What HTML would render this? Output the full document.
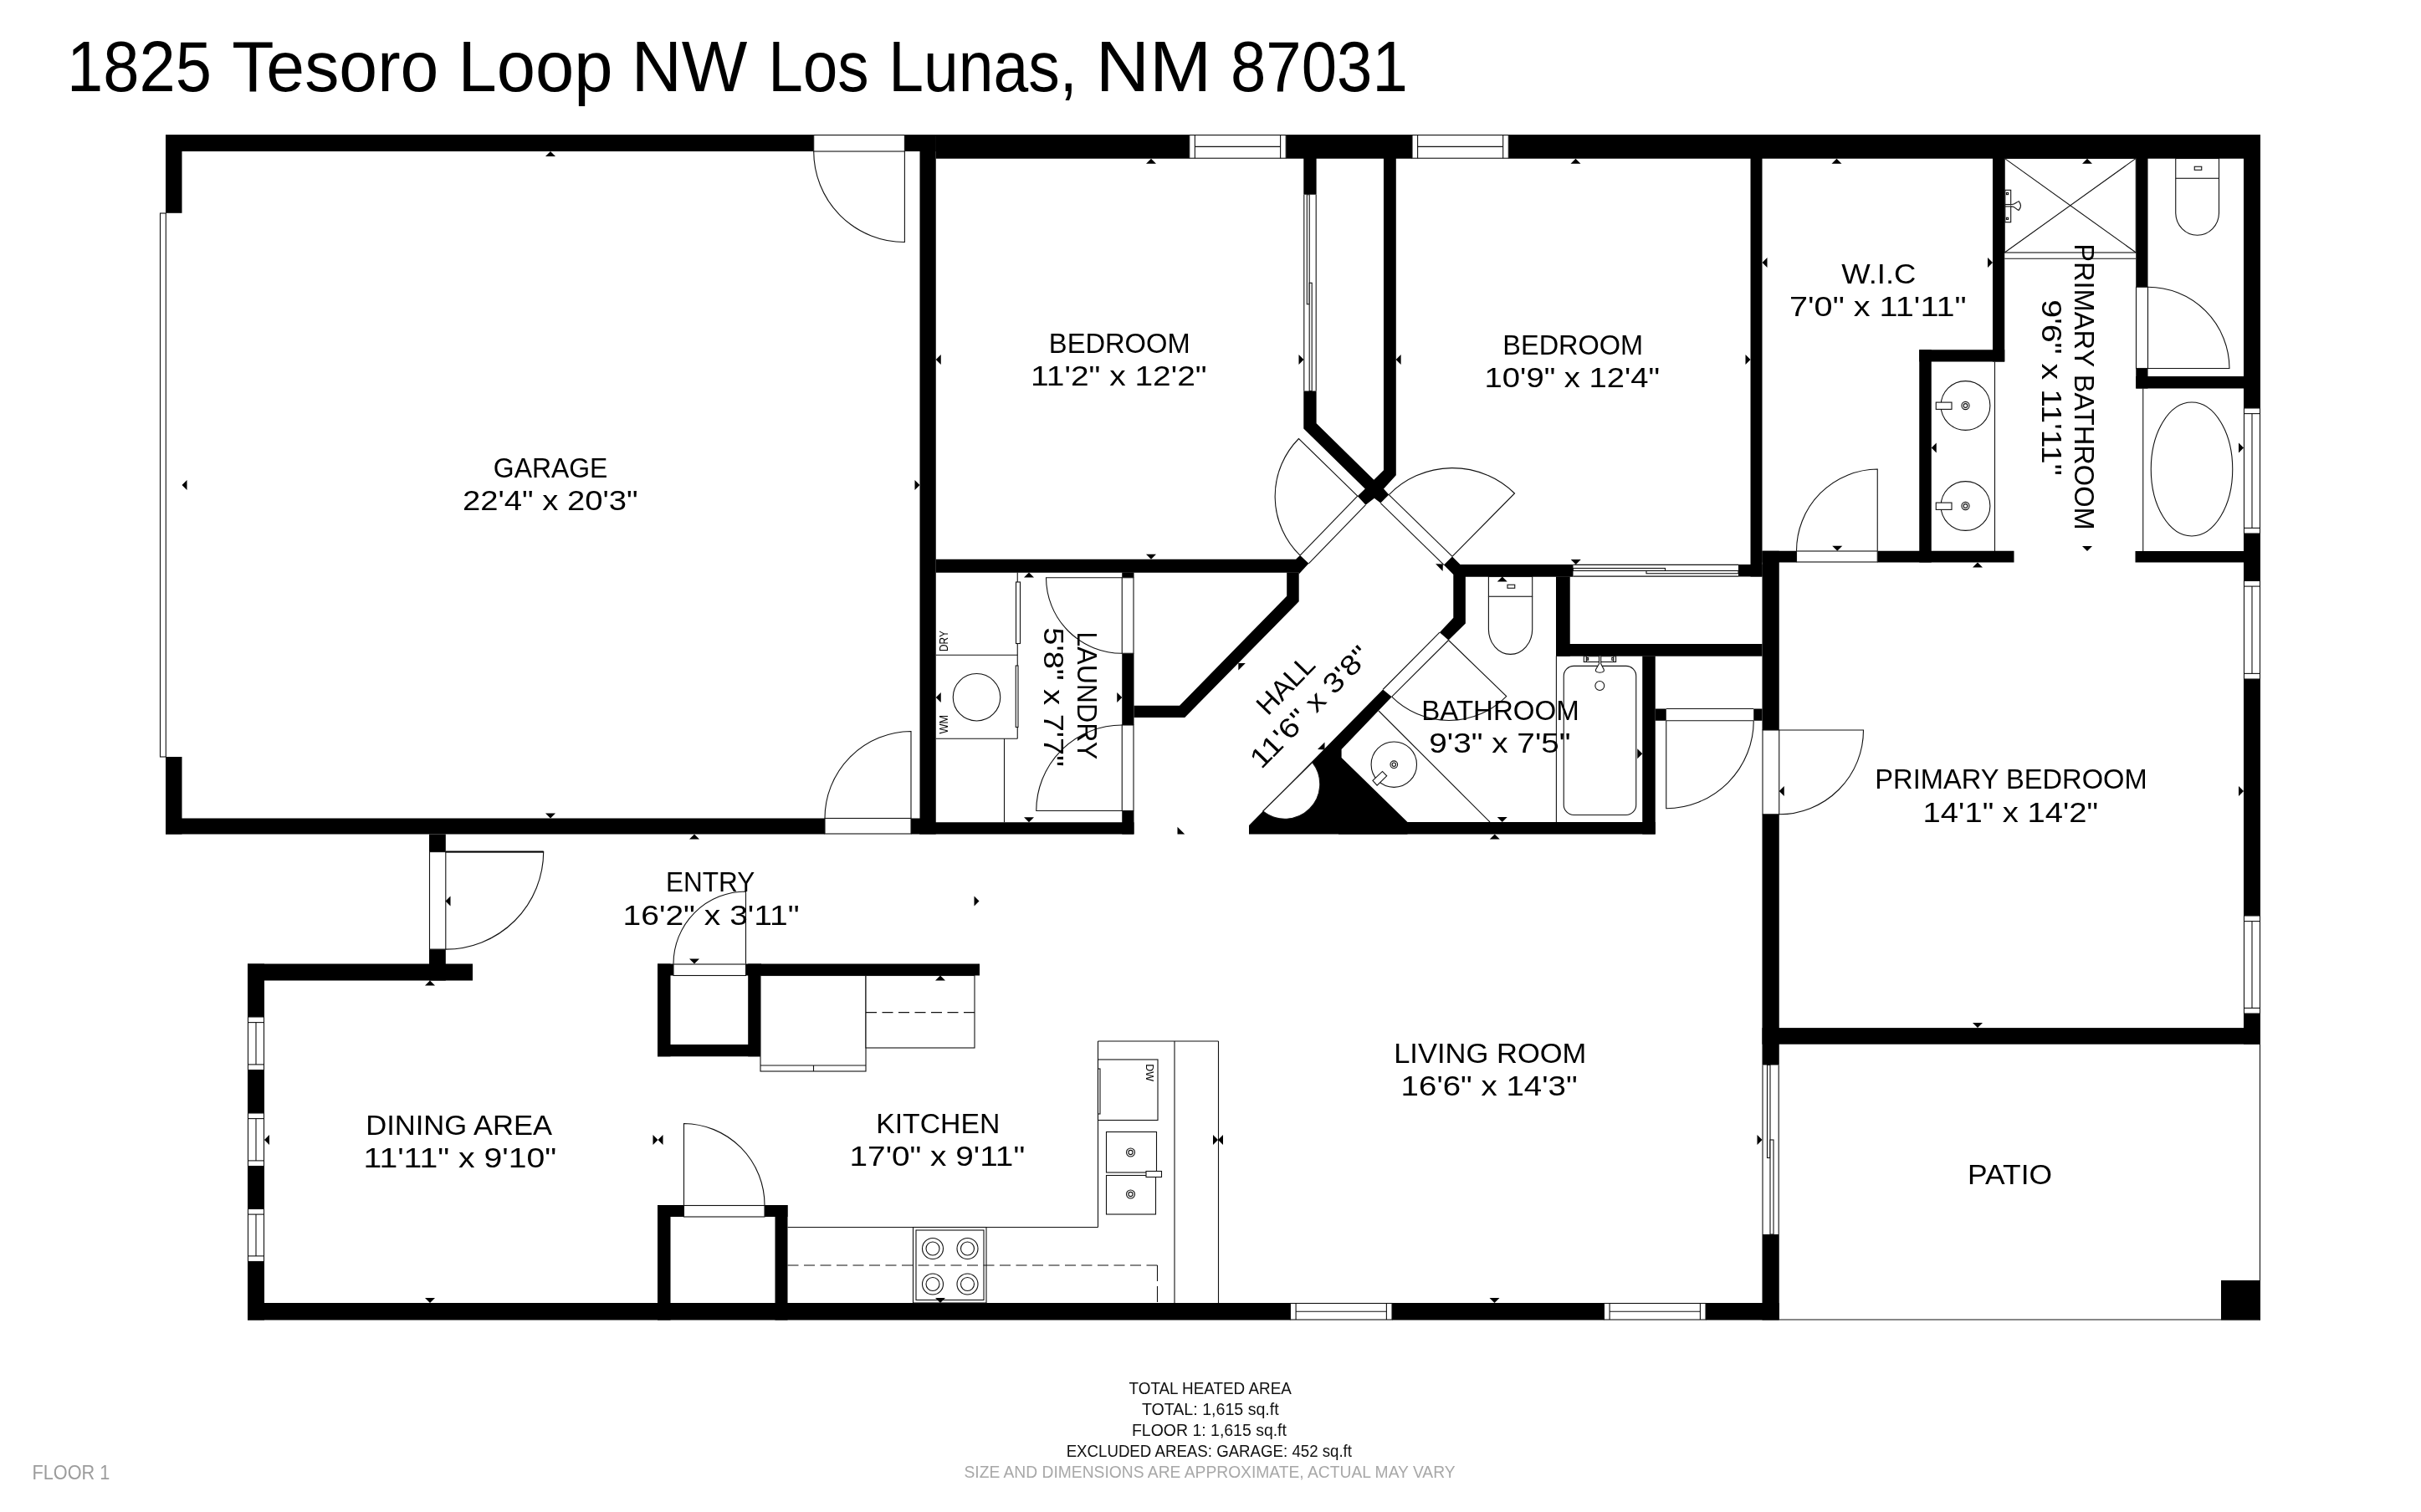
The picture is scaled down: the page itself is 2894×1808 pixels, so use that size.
<!DOCTYPE html>
<html><head><meta charset="utf-8"><title>1825 Tesoro Loop NW Los Lunas, NM 87031</title>
<style>
html,body{margin:0;padding:0;background:#fff;}
body{width:2894px;height:1808px;overflow:hidden;font-family:"Liberation Sans",sans-serif;}
svg{display:block;font-family:"Liberation Sans",sans-serif;will-change:transform;}
</style></head><body>
<svg width="2894" height="1808" viewBox="0 0 2894 1808">
<rect width="2894" height="1808" fill="#fff"/>
<rect x="198" y="161" width="774.7" height="20" fill="#000"/>
<rect x="1081.4" y="161" width="37.35" height="20" fill="#000"/>
<rect x="1118.75" y="161" width="303" height="28.7" fill="#000"/>
<rect x="1537.2" y="161" width="150.8" height="28.7" fill="#000"/>
<rect x="1803.3" y="161" width="898.7" height="28.7" fill="#000"/>
<rect x="198" y="161" width="19.5" height="93.8" fill="#000"/>
<rect x="198" y="905" width="19.5" height="92.5" fill="#000"/>
<rect x="198" y="978.5" width="788" height="19" fill="#000"/>
<rect x="1089" y="978.5" width="11" height="19" fill="#000"/>
<rect x="1099.5" y="161" width="19.25" height="836.5" fill="#000"/>
<rect x="1099.5" y="983.25" width="256" height="14.25" fill="#000"/>
<rect x="1341.25" y="684.5" width="14.25" height="6.25" fill="#000"/>
<rect x="1341.25" y="781.25" width="14.25" height="85.75" fill="#000"/>
<rect x="1341.25" y="969.5" width="14.25" height="28" fill="#000"/>
<polygon points="1355.5,843.75 1410,843.75 1538.2,712.7 1538.2,684.5 1552.7,684.5 1552.7,719.3 1416.25,858 1355.5,858" fill="#000"/>
<polygon points="1118.75,668.8 1549.1,668.8 1554.05,664.1 1564.4,673.85 1552.7,686.6 1552.7,684.8 1118.75,684.8" fill="#000"/>
<rect x="1558.3" y="189" width="15.3" height="43.7" fill="#000"/>
<polygon points="1558.3,467.5 1573.6,467.5 1573.6,506.25 1642.3,573.8 1653.97,562.2 1653.97,189 1668.8,189 1668.8,568.3 1654,584.4 1660.3,591.6 1650.3,601.6 1642.86,595.8 1632.5,603.7 1622.75,593.15 1631.75,584.4 1558.3,512.5" fill="#000"/>
<rect x="2092.5" y="189" width="14" height="500.5" fill="#000"/>
<polygon points="1735.98,665.4 1745.5,674.9 1880.5,674.9 1880.5,689.7 1751.85,689.7 1751.85,745.5 1731.5,765.5 1720.9,756.2 1737.3,738.75 1737.3,687.1 1725.9,675.45" fill="#000"/>
<rect x="2078" y="675" width="28.5" height="14.5" fill="#000"/>
<rect x="1860" y="689.5" width="16.75" height="95.2" fill="#000"/>
<rect x="1860" y="770" width="246.5" height="14.7" fill="#000"/>
<rect x="1963.25" y="784.5" width="15.5" height="213" fill="#000"/>
<rect x="1600" y="983" width="378.75" height="14.5" fill="#000"/>
<rect x="1978.75" y="847.5" width="13" height="14.25" fill="#000"/>
<rect x="2096.25" y="847.5" width="10.25" height="14.25" fill="#000"/>
<polygon points="1653.1,824.5 1663.7,833.2 1603.6,896 1603.6,906 1682.5,983 1682.5,997.5 1493,997.5 1493,987" fill="#000"/>
<rect x="2106.5" y="658.75" width="20.25" height="214.25" fill="#000"/>
<rect x="2106.5" y="973.75" width="20.25" height="299.75" fill="#000"/>
<rect x="2106.5" y="1476" width="20.25" height="102.5" fill="#000"/>
<rect x="2106.5" y="658.75" width="41" height="13.75" fill="#000"/>
<rect x="2244.25" y="658.75" width="163.25" height="13.75" fill="#000"/>
<rect x="2382" y="189" width="14.25" height="243.5" fill="#000"/>
<rect x="2294.25" y="418.25" width="102" height="14.25" fill="#000"/>
<rect x="2294.25" y="418.25" width="14.5" height="254.25" fill="#000"/>
<rect x="2553.25" y="189" width="14.25" height="154.25" fill="#000"/>
<rect x="2553.25" y="440.5" width="14.25" height="24" fill="#000"/>
<rect x="2553.25" y="450" width="128.75" height="14.5" fill="#000"/>
<rect x="2552.5" y="659" width="129.5" height="13.5" fill="#000"/>
<rect x="2682" y="161" width="20" height="327" fill="#000"/>
<rect x="2682" y="638" width="20" height="56.5" fill="#000"/>
<rect x="2682" y="812" width="20" height="283" fill="#000"/>
<rect x="2682" y="1212" width="20" height="36.7" fill="#000"/>
<rect x="2106.5" y="1229.1" width="595.5" height="19.6" fill="#000"/>
<rect x="513" y="997.5" width="19.8" height="21.1" fill="#000"/>
<rect x="513" y="1135.1" width="19.8" height="37.4" fill="#000"/>
<rect x="296" y="1152.5" width="269" height="20" fill="#000"/>
<rect x="296" y="1152.5" width="20" height="63.5" fill="#000"/>
<rect x="296" y="1279.5" width="20" height="51.5" fill="#000"/>
<rect x="296" y="1394.5" width="20" height="51" fill="#000"/>
<rect x="296" y="1508.5" width="20" height="70" fill="#000"/>
<rect x="296" y="1558" width="1246.5" height="20.5" fill="#000"/>
<rect x="1664" y="1558" width="253.5" height="20.5" fill="#000"/>
<rect x="2039" y="1558" width="87.75" height="20.5" fill="#000"/>
<rect x="786" y="1152.5" width="19.2" height="14" fill="#000"/>
<rect x="892" y="1152.5" width="17.7" height="14" fill="#000"/>
<rect x="786" y="1249" width="123.7" height="14.3" fill="#000"/>
<rect x="786" y="1152.5" width="15.5" height="110.8" fill="#000"/>
<rect x="894.2" y="1152.5" width="15.5" height="110.8" fill="#000"/>
<rect x="909" y="1152.5" width="262" height="14" fill="#000"/>
<rect x="786" y="1441" width="31.5" height="14" fill="#000"/>
<rect x="914" y="1441" width="27.5" height="14" fill="#000"/>
<rect x="786" y="1441" width="15.5" height="137.5" fill="#000"/>
<rect x="926.5" y="1441" width="15" height="137.5" fill="#000"/>
<rect x="2655" y="1531" width="47" height="47.5" fill="#000"/>
<rect x="1421.75" y="161.5" width="115.45" height="27.7" rx="0" fill="#fff" stroke="#111" stroke-width="1.1"/>
<line x1="1428.35" y1="161.5" x2="1428.35" y2="189.2" stroke="#111" stroke-width="1.1"/>
<line x1="1530.6" y1="161.5" x2="1530.6" y2="189.2" stroke="#111" stroke-width="1.1"/>
<line x1="1428.35" y1="175.35" x2="1530.6" y2="175.35" stroke="#111" stroke-width="1.1"/>
<rect x="1688" y="161.5" width="115.3" height="27.7" rx="0" fill="#fff" stroke="#111" stroke-width="1.1"/>
<line x1="1694.6" y1="161.5" x2="1694.6" y2="189.2" stroke="#111" stroke-width="1.1"/>
<line x1="1796.7" y1="161.5" x2="1796.7" y2="189.2" stroke="#111" stroke-width="1.1"/>
<line x1="1694.6" y1="175.35" x2="1796.7" y2="175.35" stroke="#111" stroke-width="1.1"/>
<rect x="1542.5" y="1558.5" width="121.5" height="19.5" rx="0" fill="#fff" stroke="#111" stroke-width="1.1"/>
<line x1="1549.1" y1="1558.5" x2="1549.1" y2="1578" stroke="#111" stroke-width="1.1"/>
<line x1="1657.4" y1="1558.5" x2="1657.4" y2="1578" stroke="#111" stroke-width="1.1"/>
<line x1="1549.1" y1="1568.25" x2="1657.4" y2="1568.25" stroke="#111" stroke-width="1.1"/>
<rect x="1917.5" y="1558.5" width="121.5" height="19.5" rx="0" fill="#fff" stroke="#111" stroke-width="1.1"/>
<line x1="1924.1" y1="1558.5" x2="1924.1" y2="1578" stroke="#111" stroke-width="1.1"/>
<line x1="2032.4" y1="1558.5" x2="2032.4" y2="1578" stroke="#111" stroke-width="1.1"/>
<line x1="1924.1" y1="1568.25" x2="2032.4" y2="1568.25" stroke="#111" stroke-width="1.1"/>
<rect x="296.5" y="1216" width="19" height="63.5" rx="0" fill="#fff" stroke="#111" stroke-width="1.1"/>
<line x1="296.5" y1="1222.6" x2="315.5" y2="1222.6" stroke="#111" stroke-width="1.1"/>
<line x1="296.5" y1="1272.9" x2="315.5" y2="1272.9" stroke="#111" stroke-width="1.1"/>
<line x1="306" y1="1222.6" x2="306" y2="1272.9" stroke="#111" stroke-width="1.1"/>
<rect x="296.5" y="1331" width="19" height="63.5" rx="0" fill="#fff" stroke="#111" stroke-width="1.1"/>
<line x1="296.5" y1="1337.6" x2="315.5" y2="1337.6" stroke="#111" stroke-width="1.1"/>
<line x1="296.5" y1="1387.9" x2="315.5" y2="1387.9" stroke="#111" stroke-width="1.1"/>
<line x1="306" y1="1337.6" x2="306" y2="1387.9" stroke="#111" stroke-width="1.1"/>
<rect x="296.5" y="1445.5" width="19" height="63" rx="0" fill="#fff" stroke="#111" stroke-width="1.1"/>
<line x1="296.5" y1="1452.1" x2="315.5" y2="1452.1" stroke="#111" stroke-width="1.1"/>
<line x1="296.5" y1="1501.9" x2="315.5" y2="1501.9" stroke="#111" stroke-width="1.1"/>
<line x1="306" y1="1452.1" x2="306" y2="1501.9" stroke="#111" stroke-width="1.1"/>
<rect x="2682.5" y="488" width="19" height="150" rx="0" fill="#fff" stroke="#111" stroke-width="1.1"/>
<line x1="2682.5" y1="494.6" x2="2701.5" y2="494.6" stroke="#111" stroke-width="1.1"/>
<line x1="2682.5" y1="631.4" x2="2701.5" y2="631.4" stroke="#111" stroke-width="1.1"/>
<line x1="2692" y1="494.6" x2="2692" y2="631.4" stroke="#111" stroke-width="1.1"/>
<rect x="2682.5" y="694.5" width="19" height="117.5" rx="0" fill="#fff" stroke="#111" stroke-width="1.1"/>
<line x1="2682.5" y1="701.1" x2="2701.5" y2="701.1" stroke="#111" stroke-width="1.1"/>
<line x1="2682.5" y1="805.4" x2="2701.5" y2="805.4" stroke="#111" stroke-width="1.1"/>
<line x1="2692" y1="701.1" x2="2692" y2="805.4" stroke="#111" stroke-width="1.1"/>
<rect x="2682.5" y="1095" width="19" height="117" rx="0" fill="#fff" stroke="#111" stroke-width="1.1"/>
<line x1="2682.5" y1="1101.6" x2="2701.5" y2="1101.6" stroke="#111" stroke-width="1.1"/>
<line x1="2682.5" y1="1205.4" x2="2701.5" y2="1205.4" stroke="#111" stroke-width="1.1"/>
<line x1="2692" y1="1101.6" x2="2692" y2="1205.4" stroke="#111" stroke-width="1.1"/>
<rect x="191.5" y="255" width="6.8" height="650" rx="0" fill="#fff" stroke="#111" stroke-width="1.1"/>
<line x1="1558.8" y1="232.7" x2="1558.8" y2="467.5" stroke="#111" stroke-width="1.1"/>
<line x1="1573.2" y1="232.7" x2="1573.2" y2="467.5" stroke="#111" stroke-width="1.1"/>
<rect x="1562.3" y="232.7" width="2.9" height="131.05" rx="0" fill="#fff" stroke="#111" stroke-width="1.1"/>
<rect x="1565.2" y="338.3" width="3" height="129.2" rx="0" fill="#fff" stroke="#111" stroke-width="1.1"/>
<line x1="1880.5" y1="675.4" x2="2078" y2="675.4" stroke="#111" stroke-width="1.1"/>
<line x1="1880.5" y1="689.1" x2="2078" y2="689.1" stroke="#111" stroke-width="1.1"/>
<rect x="1880.5" y="679.5" width="110" height="3" rx="0" fill="#fff" stroke="#111" stroke-width="1.1"/>
<rect x="1968" y="682.5" width="110" height="3.25" rx="0" fill="#fff" stroke="#111" stroke-width="1.1"/>
<line x1="2107" y1="1273.5" x2="2107" y2="1476" stroke="#111" stroke-width="1.1"/>
<line x1="2126.2" y1="1273.5" x2="2126.2" y2="1476" stroke="#111" stroke-width="1.1"/>
<rect x="2112.5" y="1273.5" width="3.5" height="111" rx="0" fill="#fff" stroke="#111" stroke-width="1.1"/>
<rect x="2116" y="1363" width="4" height="113" rx="0" fill="#fff" stroke="#111" stroke-width="1.1"/>
<rect x="972.7" y="161.5" width="108.7" height="19.5" rx="0" fill="#fff" stroke="#111" stroke-width="1.1"/>
<path d="M1081.4 181 L1081.4 289.5 A108.5 108.5 0 0 1 972.7 181" fill="none" stroke="#111" stroke-width="1.1"/>
<rect x="986" y="978.5" width="103" height="18.5" rx="0" fill="#fff" stroke="#111" stroke-width="1.1"/>
<path d="M1089 978.5 L1089 874.5 A104 104 0 0 0 986 978.5" fill="none" stroke="#111" stroke-width="1.1"/>
<rect x="513.5" y="1018.6" width="19.3" height="116.5" rx="0" fill="#fff" stroke="#111" stroke-width="1.1"/>
<path d="M532.8 1018.6 L649.7 1018.6 A116.9 116.9 0 0 1 532.8 1135.1" fill="none" stroke="#111" stroke-width="1.1"/>
<line x1="532.8" y1="1018.6" x2="649.7" y2="1018.6" stroke="#000" stroke-width="2"/>
<rect x="805" y="1153" width="86.5" height="13.5" rx="0" fill="#fff" stroke="#111" stroke-width="1.1"/>
<path d="M891.5 1152.5 L891.5 1066 A86.5 86.5 0 0 0 805 1152.5" fill="none" stroke="#111" stroke-width="1.1"/>
<rect x="817.5" y="1441.5" width="96.5" height="13.5" rx="0" fill="#fff" stroke="#111" stroke-width="1.1"/>
<path d="M817.5 1441 L817.5 1343.5 A97.5 97.5 0 0 1 914 1441" fill="none" stroke="#111" stroke-width="1.1"/>
<rect x="1341.25" y="690.75" width="13.75" height="90.5" rx="0" fill="#fff" stroke="#111" stroke-width="1.1"/>
<path d="M1341.25 690.75 L1250.5 690.75 A90.75 90.75 0 0 0 1341.25 781.25" fill="none" stroke="#111" stroke-width="1.1"/>
<rect x="1341.25" y="867" width="13.75" height="102.5" rx="0" fill="#fff" stroke="#111" stroke-width="1.1"/>
<path d="M1341.25 969.5 L1238.75 969.5 A102.5 102.5 0 0 1 1341.25 867" fill="none" stroke="#111" stroke-width="1.1"/>
<line x1="1622.75" y1="593.15" x2="1554.05" y2="664.1" stroke="#111" stroke-width="1.1"/>
<line x1="1632.5" y1="603.7" x2="1564.4" y2="673.85" stroke="#111" stroke-width="1.1"/>
<path d="M1622.75 593.15 L1552.5 524.5 A98.22 98.22 0 0 0 1554.05 664.1" fill="none" stroke="#111" stroke-width="1.1"/>
<line x1="1660.3" y1="591.6" x2="1735.98" y2="665.4" stroke="#111" stroke-width="1.1"/>
<line x1="1650.3" y1="601.6" x2="1725.9" y2="675.45" stroke="#111" stroke-width="1.1"/>
<path d="M1735.98 665.4 L1810.5 590 A106.01 106.01 0 0 0 1660.3 591.6" fill="none" stroke="#111" stroke-width="1.1"/>
<line x1="1720.9" y1="756.2" x2="1653.1" y2="824.5" stroke="#111" stroke-width="1.1"/>
<line x1="1731.5" y1="765.5" x2="1663.7" y2="833.2" stroke="#111" stroke-width="1.1"/>
<path d="M1731.5 765.5 L1800.7 832.6 A96.39 96.39 0 0 1 1663.7 833.2" fill="none" stroke="#111" stroke-width="1.1"/>
<path d="M1509.7 970 L1568.8 911.6 A41.8 41.8 0 0 1 1509.7 970 Z" fill="#fff" stroke="#111" stroke-width="1.1"/>
<line x1="1991.75" y1="847.5" x2="2096.25" y2="847.5" stroke="#111" stroke-width="1.1"/>
<line x1="1991.75" y1="861.75" x2="2096.25" y2="861.75" stroke="#111" stroke-width="1.1"/>
<path d="M1991.75 861.75 L1991.75 966.75 A105 105 0 0 0 2096.25 861.75" fill="none" stroke="#111" stroke-width="1.1"/>
<rect x="2107" y="873" width="19.75" height="100.75" rx="0" fill="#fff" stroke="#111" stroke-width="1.1"/>
<path d="M2126.75 873 L2227.5 873 A100.75 100.75 0 0 1 2126.75 973.75" fill="none" stroke="#111" stroke-width="1.1"/>
<rect x="2147.5" y="659" width="96.75" height="13" rx="0" fill="#fff" stroke="#111" stroke-width="1.1"/>
<path d="M2244.25 658.75 L2244.25 561 A97.75 97.75 0 0 0 2147.5 658.75" fill="none" stroke="#111" stroke-width="1.1"/>
<rect x="2553.5" y="343.25" width="14" height="97.25" rx="0" fill="#fff" stroke="#111" stroke-width="1.1"/>
<path d="M2567.5 440.5 L2665 440.5 A97.5 97.5 0 0 0 2567.5 343.25" fill="none" stroke="#111" stroke-width="1.1"/>
<rect x="1779.4" y="689.5" width="52.3" height="23.75" rx="0" fill="#fff" stroke="#111" stroke-width="1.1"/>
<path d="M1779.4 713.25 L1779.4 752.5 A26.15 30 0 0 0 1831.7 752.5 L1831.7 713.25" fill="none" stroke="#111" stroke-width="1.1"/>
<rect x="1802" y="699.25" width="8.75" height="4" rx="0" fill="#fff" stroke="#111" stroke-width="1.1"/>
<rect x="2600.75" y="189.5" width="51.75" height="23.75" rx="0" fill="#fff" stroke="#111" stroke-width="1.1"/>
<path d="M2600.75 213.25 L2600.75 255 A25.88 26.75 0 0 0 2652.5 255 L2652.5 213.25" fill="none" stroke="#111" stroke-width="1.1"/>
<rect x="2623.25" y="199.25" width="8.5" height="4" rx="0" fill="#fff" stroke="#111" stroke-width="1.1"/>
<rect x="2396.25" y="189.4" width="157" height="112.6" rx="0" fill="#fff" stroke="#111" stroke-width="1.1"/>
<line x1="2396.25" y1="309.25" x2="2553.25" y2="309.25" stroke="#111" stroke-width="1.1"/>
<line x1="2396.25" y1="189.4" x2="2553.25" y2="302" stroke="#111" stroke-width="1.1"/>
<line x1="2396.25" y1="302" x2="2553.25" y2="189.4" stroke="#111" stroke-width="1.1"/>
<rect x="2396.8" y="227.3" width="6.9" height="38.4" rx="0" fill="#fff" stroke="#111" stroke-width="1.1"/>
<rect x="2398.4" y="230.5" width="2.2" height="2.1" rx="0" fill="#fff" stroke="#111" stroke-width="1.1"/>
<rect x="2398.4" y="260.3" width="2.2" height="2.1" rx="0" fill="#fff" stroke="#111" stroke-width="1.1"/>
<line x1="2396.8" y1="244.5" x2="2404.5" y2="244.5" stroke="#111" stroke-width="1.1"/>
<line x1="2396.8" y1="246.9" x2="2404.5" y2="246.9" stroke="#111" stroke-width="1.1"/>
<path d="M2403.7 244.5 L2404.9 244.5 C2409 244.5 2410 241.5 2413.2 240.7 Q2417.8 246 2413.2 251.4 C2410 250.6 2409 246.9 2404.9 246.9 L2403.7 246.9" fill="#fff" stroke="#111" stroke-width="1.1"/>
<line x1="2384.5" y1="432.5" x2="2384.5" y2="659" stroke="#111" stroke-width="1.1"/>
<circle cx="2349.5" cy="485" r="29.4" fill="none" stroke="#111" stroke-width="1.1"/>
<rect x="2314.25" y="481.1" width="18.75" height="8.3" rx="0" fill="#fff" stroke="#111" stroke-width="1.1"/>
<circle cx="2349.5" cy="485" r="4.6" fill="none" stroke="#111" stroke-width="1.1"/>
<circle cx="2349.5" cy="485" r="2.4" fill="none" stroke="#111" stroke-width="1.1"/>
<circle cx="2349.5" cy="605" r="29.4" fill="none" stroke="#111" stroke-width="1.1"/>
<rect x="2314.25" y="601.1" width="18.75" height="8.3" rx="0" fill="#fff" stroke="#111" stroke-width="1.1"/>
<circle cx="2349.5" cy="605" r="4.6" fill="none" stroke="#111" stroke-width="1.1"/>
<circle cx="2349.5" cy="605" r="2.4" fill="none" stroke="#111" stroke-width="1.1"/>
<line x1="2561.75" y1="464.5" x2="2561.75" y2="659" stroke="#111" stroke-width="1.1"/>
<ellipse cx="2620" cy="561" rx="48.75" ry="80" fill="none" stroke="#111" stroke-width="1.1"/>
<line x1="1860.4" y1="784.5" x2="1860.4" y2="983" stroke="#111" stroke-width="1.1"/>
<rect x="1869.25" y="796.4" width="86.5" height="178.1" rx="12" fill="#fff" stroke="#111" stroke-width="1.1"/>
<circle cx="1912.3" cy="820" r="5.45" fill="none" stroke="#111" stroke-width="1.1"/>
<rect x="1893.3" y="784.7" width="38.3" height="6.8" rx="0" fill="#fff" stroke="#111" stroke-width="1.1"/>
<line x1="1896.3" y1="784.7" x2="1896.3" y2="791.5" stroke="#111" stroke-width="1.1"/>
<line x1="1928.8" y1="784.7" x2="1928.8" y2="791.5" stroke="#111" stroke-width="1.1"/>
<rect x="1897" y="786.5" width="1.6" height="2.8" rx="0" fill="#fff" stroke="#111" stroke-width="1.1"/>
<rect x="1926.8" y="786.5" width="1.4" height="2.8" rx="0" fill="#fff" stroke="#111" stroke-width="1.1"/>
<path d="M1911.5 784.7 L1911.5 793.7 L1907.6 800.5 Q1906.3 804 1912.4 804.2 Q1918.5 804 1917.2 800.5 L1913.7 793.7 L1913.7 784.7" fill="#fff" stroke="#111" stroke-width="1.1"/>
<line x1="1648" y1="850" x2="1781" y2="983" stroke="#111" stroke-width="1.1"/>
<circle cx="1666.3" cy="914.2" r="27.2" fill="none" stroke="#111" stroke-width="1.1"/>
<circle cx="1666.3" cy="914.2" r="4.3" fill="none" stroke="#111" stroke-width="1.1"/>
<circle cx="1666.3" cy="914.2" r="2.2" fill="none" stroke="#111" stroke-width="1.1"/>
<polygon points="1640.9,933.4 1652.5,922.4 1657.7,927.8 1646.1,939.2" fill="#fff"/>
<path d="M1640.9 933.4 L1652.5 922.4 L1657.7 927.8 L1646.1 939.2 Z" fill="#fff" stroke="#111" stroke-width="1.1"/>
<line x1="1216.25" y1="684.5" x2="1216.25" y2="883.25" stroke="#111" stroke-width="1.1"/>
<line x1="1118.75" y1="783.25" x2="1216.25" y2="783.25" stroke="#111" stroke-width="1.1"/>
<line x1="1118.75" y1="883.25" x2="1216.25" y2="883.25" stroke="#111" stroke-width="1.1"/>
<line x1="1200.5" y1="883.25" x2="1200.5" y2="983.25" stroke="#111" stroke-width="1.1"/>
<circle cx="1167.5" cy="833.75" r="28.25" fill="none" stroke="#111" stroke-width="1.1"/>
<rect x="1214.5" y="696" width="5" height="73.5" rx="0" fill="#fff" stroke="#111" stroke-width="1.1"/>
<rect x="1214.25" y="796" width="2.75" height="73.5" rx="0" fill="#fff" stroke="#111" stroke-width="1.1"/>
<text x="1133" y="778.93" font-size="14" text-anchor="start" fill="#000" textLength="24.68" lengthAdjust="spacingAndGlyphs" transform="rotate(-90 1133 778.93)">DRY</text>
<text x="1133" y="877.59" font-size="14" text-anchor="start" fill="#000" textLength="22.66" lengthAdjust="spacingAndGlyphs" transform="rotate(-90 1133 877.59)">WM</text>
<rect x="909" y="1166.5" width="126" height="114.5" rx="0" fill="#fff" stroke="#111" stroke-width="1.1"/>
<line x1="909" y1="1274" x2="1035" y2="1274" stroke="#111" stroke-width="1.1"/>
<line x1="972.5" y1="1274" x2="972.5" y2="1281" stroke="#111" stroke-width="1.1"/>
<rect x="1035" y="1166.5" width="130" height="86.5" rx="0" fill="#fff" stroke="#111" stroke-width="1.1"/>
<line x1="1035" y1="1210.6" x2="1165" y2="1210.6" stroke="#111" stroke-width="1.1" stroke-dasharray="13 6.5"/>
<line x1="941.5" y1="1467.5" x2="1312.5" y2="1467.5" stroke="#111" stroke-width="1.1"/>
<line x1="1312.5" y1="1245" x2="1312.5" y2="1467.5" stroke="#111" stroke-width="1.1"/>
<line x1="1312.5" y1="1245" x2="1456.5" y2="1245" stroke="#111" stroke-width="1.1"/>
<line x1="1456.5" y1="1245" x2="1456.5" y2="1558" stroke="#111" stroke-width="1.1"/>
<line x1="1404" y1="1245" x2="1404" y2="1558" stroke="#111" stroke-width="1.1"/>
<rect x="1091.5" y="1467.5" width="87.5" height="90.5" rx="0" fill="#fff" stroke="#111" stroke-width="1.1"/>
<rect x="1095" y="1471" width="81" height="83.5" rx="0" fill="#fff" stroke="#111" stroke-width="1.1"/>
<circle cx="1115" cy="1493" r="12.5" fill="none" stroke="#111" stroke-width="1.1"/>
<circle cx="1115" cy="1493" r="8" fill="none" stroke="#111" stroke-width="1.1"/>
<circle cx="1115" cy="1535.5" r="12.5" fill="none" stroke="#111" stroke-width="1.1"/>
<circle cx="1115" cy="1535.5" r="8" fill="none" stroke="#111" stroke-width="1.1"/>
<circle cx="1156.5" cy="1493" r="12.5" fill="none" stroke="#111" stroke-width="1.1"/>
<circle cx="1156.5" cy="1493" r="8" fill="none" stroke="#111" stroke-width="1.1"/>
<circle cx="1156.5" cy="1535.5" r="12.5" fill="none" stroke="#111" stroke-width="1.1"/>
<circle cx="1156.5" cy="1535.5" r="8" fill="none" stroke="#111" stroke-width="1.1"/>
<line x1="941.5" y1="1513" x2="1383.5" y2="1513" stroke="#111" stroke-width="1.1" stroke-dasharray="13 6.5"/>
<line x1="1383.5" y1="1513" x2="1383.5" y2="1558" stroke="#111" stroke-width="1.1" stroke-dasharray="19 6"/>
<rect x="1312.5" y="1267" width="71.5" height="72.5" rx="0" fill="#fff" stroke="#111" stroke-width="1.1"/>
<rect x="1312.5" y="1278" width="2.5" height="54" rx="0" fill="#fff" stroke="#111" stroke-width="1.1"/>
<text x="1369.6" y="1272.21" font-size="12.5" text-anchor="start" fill="#000" textLength="20.72" lengthAdjust="spacingAndGlyphs" transform="rotate(90 1369.6 1272.21)">DW</text>
<rect x="1322.5" y="1353.5" width="60" height="48.5" rx="0" fill="#fff" stroke="#111" stroke-width="1.1"/>
<rect x="1322.5" y="1405.5" width="59" height="46.5" rx="0" fill="#fff" stroke="#111" stroke-width="1.1"/>
<circle cx="1351.5" cy="1378" r="5" fill="none" stroke="#111" stroke-width="1.1"/>
<circle cx="1351.5" cy="1378" r="2.6" fill="none" stroke="#111" stroke-width="1.1"/>
<circle cx="1351.5" cy="1428" r="5" fill="none" stroke="#111" stroke-width="1.1"/>
<circle cx="1351.5" cy="1428" r="2.6" fill="none" stroke="#111" stroke-width="1.1"/>
<rect x="1370" y="1400.5" width="18.5" height="7" rx="0" fill="#fff" stroke="#111" stroke-width="1.1"/>
<line x1="2701.5" y1="1248.5" x2="2701.5" y2="1578.5" stroke="#111" stroke-width="1.1"/>
<line x1="2126.75" y1="1578" x2="2701.5" y2="1578" stroke="#111" stroke-width="1.1"/>
<polygon points="658,181 652,187 664,187" fill="#000"/>
<polygon points="658,978.5 652,972.5 664,972.5" fill="#000"/>
<polygon points="217.5,580 223.5,574 223.5,586" fill="#000"/>
<polygon points="1099.5,580 1093.5,574 1093.5,586" fill="#000"/>
<polygon points="1376,189.7 1370,195.7 1382,195.7" fill="#000"/>
<polygon points="1376,668.8 1370,662.8 1382,662.8" fill="#000"/>
<polygon points="1118.75,430 1124.75,424 1124.75,436" fill="#000"/>
<polygon points="1558.5,430 1552.5,424 1552.5,436" fill="#000"/>
<polygon points="1883.5,189.7 1877.5,195.7 1889.5,195.7" fill="#000"/>
<polygon points="1883.75,675 1877.75,669 1889.75,669" fill="#000"/>
<polygon points="1668.6,430 1674.6,424 1674.6,436" fill="#000"/>
<polygon points="2092.5,430 2086.5,424 2086.5,436" fill="#000"/>
<polygon points="2195.5,189.7 2189.5,195.7 2201.5,195.7" fill="#000"/>
<polygon points="2196.25,658.75 2190.25,652.75 2202.25,652.75" fill="#000"/>
<polygon points="2106.5,314 2112.5,308 2112.5,320" fill="#000"/>
<polygon points="2382,314 2376,308 2376,320" fill="#000"/>
<polygon points="2495,189.7 2489,195.7 2501,195.7" fill="#000"/>
<polygon points="2308.75,535.5 2314.75,529.5 2314.75,541.5" fill="#000"/>
<polygon points="2682,535.5 2676,529.5 2676,541.5" fill="#000"/>
<polygon points="2364,672.5 2358,678.5 2370,678.5" fill="#000"/>
<polygon points="2364,1229 2358,1223 2370,1223" fill="#000"/>
<polygon points="2126.75,946 2132.75,940 2132.75,952" fill="#000"/>
<polygon points="2682,946 2676,940 2676,952" fill="#000"/>
<polygon points="1230,684.5 1224,690.5 1236,690.5" fill="#000"/>
<polygon points="1230,983.25 1224,977.25 1236,977.25" fill="#000"/>
<polygon points="1118.75,834 1124.75,828 1124.75,840" fill="#000"/>
<polygon points="1341.25,834 1335.25,828 1335.25,840" fill="#000"/>
<polygon points="1795.75,689.5 1789.75,695.5 1801.75,695.5" fill="#000"/>
<polygon points="1795.75,983 1789.75,977 1801.75,977" fill="#000"/>
<polygon points="1963.25,901.25 1957.25,895.25 1957.25,907.25" fill="#000"/>
<polygon points="830,997.5 824,1003.5 836,1003.5" fill="#000"/>
<polygon points="830,1152.5 824,1146.5 836,1146.5" fill="#000"/>
<polygon points="532.5,1077.5 538.5,1071.5 538.5,1083.5" fill="#000"/>
<polygon points="1170.5,1077.5 1164.5,1071.5 1164.5,1083.5" fill="#000"/>
<polygon points="514,1172.5 508,1178.5 520,1178.5" fill="#000"/>
<polygon points="514,1558 508,1552 520,1552" fill="#000"/>
<polygon points="316,1363 322,1357 322,1369" fill="#000"/>
<polygon points="786.5,1363 780.5,1357 780.5,1369" fill="#000"/>
<polygon points="786.5,1363 792.5,1357 792.5,1369" fill="#000"/>
<polygon points="1456,1363 1450,1357 1450,1369" fill="#000"/>
<polygon points="1124,1166.5 1118,1172.5 1130,1172.5" fill="#000"/>
<polygon points="1124,1558 1118,1552 1130,1552" fill="#000"/>
<polygon points="1456,1363 1462,1357 1462,1369" fill="#000"/>
<polygon points="2106.5,1363 2100.5,1357 2100.5,1369" fill="#000"/>
<polygon points="1786.5,1558 1780.5,1552 1792.5,1552" fill="#000"/>
<polygon points="1786.75,997.5 1780.75,1003.5 1792.75,1003.5" fill="#000"/>
<polygon points="2495,659 2489,653 2501,653" fill="#000"/>
<polygon points="1407.5,988.75 1407.5,997.5 1416.25,997.5" fill="#000"/>
<polygon points="1716.1,674.3 1724.9,674.4 1724.6,682.9" fill="#000"/>
<polygon points="1480.3,793 1488.8,793 1480.3,801.5" fill="#000"/>
<polygon points="1575,896 1583.5,887.5 1583.5,896.5" fill="#000"/>
<text x="589.86" y="571" font-size="33" text-anchor="start" fill="#000" textLength="136.5" lengthAdjust="spacingAndGlyphs">GARAGE</text>
<text x="553.03" y="610" font-size="33" text-anchor="start" fill="#000" textLength="209.57" lengthAdjust="spacingAndGlyphs">22'4&quot; x 20'3&quot;</text>
<text x="1253.83" y="421.5" font-size="33" text-anchor="start" fill="#000" textLength="168.86" lengthAdjust="spacingAndGlyphs">BEDROOM</text>
<text x="1232.05" y="461" font-size="33" text-anchor="start" fill="#000" textLength="210.64" lengthAdjust="spacingAndGlyphs">11'2&quot; x 12'2&quot;</text>
<text x="1796.34" y="424" font-size="33" text-anchor="start" fill="#000" textLength="167.83" lengthAdjust="spacingAndGlyphs">BEDROOM</text>
<text x="1774.61" y="462.5" font-size="33" text-anchor="start" fill="#000" textLength="209.5" lengthAdjust="spacingAndGlyphs">10'9&quot; x 12'4&quot;</text>
<text x="2201.28" y="338.5" font-size="33" text-anchor="start" fill="#000" textLength="89.23" lengthAdjust="spacingAndGlyphs">W.I.C</text>
<text x="2138.96" y="377.5" font-size="33" text-anchor="start" fill="#000" textLength="211.71" lengthAdjust="spacingAndGlyphs">7'0&quot; x 11'11&quot;</text>
<text x="1699.3" y="860.5" font-size="33" text-anchor="start" fill="#000" textLength="188.43" lengthAdjust="spacingAndGlyphs">BATHROOM</text>
<text x="1708.24" y="900" font-size="33" text-anchor="start" fill="#000" textLength="169.38" lengthAdjust="spacingAndGlyphs">9'3&quot; x 7'5&quot;</text>
<text x="2241.33" y="942.5" font-size="33" text-anchor="start" fill="#000" textLength="325.28" lengthAdjust="spacingAndGlyphs">PRIMARY BEDROOM</text>
<text x="2298.61" y="982.5" font-size="33" text-anchor="start" fill="#000" textLength="209.5" lengthAdjust="spacingAndGlyphs">14'1&quot; x 14'2&quot;</text>
<text x="795.92" y="1066" font-size="33" text-anchor="start" fill="#000" textLength="106.29" lengthAdjust="spacingAndGlyphs">ENTRY</text>
<text x="744.54" y="1106" font-size="33" text-anchor="start" fill="#000" textLength="211.16" lengthAdjust="spacingAndGlyphs">16'2&quot; x 3'11&quot;</text>
<text x="437.17" y="1357" font-size="33" text-anchor="start" fill="#000" textLength="222.95" lengthAdjust="spacingAndGlyphs">DINING AREA</text>
<text x="434.53" y="1396" font-size="33" text-anchor="start" fill="#000" textLength="230.67" lengthAdjust="spacingAndGlyphs">11'11&quot; x 9'10&quot;</text>
<text x="1047.24" y="1354.5" font-size="33" text-anchor="start" fill="#000" textLength="148.06" lengthAdjust="spacingAndGlyphs">KITCHEN</text>
<text x="1015.56" y="1394" font-size="33" text-anchor="start" fill="#000" textLength="209.62" lengthAdjust="spacingAndGlyphs">17'0&quot; x 9'11&quot;</text>
<text x="1666.18" y="1270.5" font-size="33" text-anchor="start" fill="#000" textLength="230.18" lengthAdjust="spacingAndGlyphs">LIVING ROOM</text>
<text x="1674.58" y="1309.5" font-size="33" text-anchor="start" fill="#000" textLength="211.03" lengthAdjust="spacingAndGlyphs">16'6&quot; x 14'3&quot;</text>
<text x="2352.1" y="1416" font-size="33" text-anchor="start" fill="#000" textLength="101.03" lengthAdjust="spacingAndGlyphs">PATIO</text>
<text x="2480" y="291.13" font-size="33" text-anchor="start" fill="#000" textLength="342.69" lengthAdjust="spacingAndGlyphs" transform="rotate(90 2480 291.13)">PRIMARY BATHROOM</text>
<text x="2440.5" y="358.21" font-size="33" text-anchor="start" fill="#000" textLength="210.45" lengthAdjust="spacingAndGlyphs" transform="rotate(90 2440.5 358.21)">9'6&quot; x 11'11&quot;</text>
<text x="1287.5" y="755.37" font-size="33" text-anchor="start" fill="#000" textLength="152.81" lengthAdjust="spacingAndGlyphs" transform="rotate(90 1287.5 755.37)">LAUNDRY</text>
<text x="1247.9" y="750.3" font-size="33" text-anchor="start" fill="#000" textLength="166.49" lengthAdjust="spacingAndGlyphs" transform="rotate(90 1247.9 750.3)">5'8&quot; x 7'7&quot;</text>
<text x="1544.8" y="826.8" font-size="33" text-anchor="middle" fill="#000" textLength="84" lengthAdjust="spacingAndGlyphs" transform="rotate(-45.7 1544.8 826.8)">HALL</text>
<text x="1573.8" y="853.2" font-size="33" text-anchor="middle" fill="#000" textLength="189" lengthAdjust="spacingAndGlyphs" transform="rotate(-45.7 1573.8 853.2)">11'6&quot; x 3'8&quot;</text>
<text x="80.06" y="109.2" font-size="85" text-anchor="start" fill="#000" textLength="172.83" lengthAdjust="spacingAndGlyphs">1825</text>
<text x="277.16" y="109.2" font-size="85" text-anchor="start" fill="#000" textLength="247.26" lengthAdjust="spacingAndGlyphs">Tesoro</text>
<text x="547.55" y="109.2" font-size="85" text-anchor="start" fill="#000" textLength="184.96" lengthAdjust="spacingAndGlyphs">Loop</text>
<text x="754.65" y="109.2" font-size="85" text-anchor="start" fill="#000" textLength="138.66" lengthAdjust="spacingAndGlyphs">NW</text>
<text x="918.15" y="109.2" font-size="85" text-anchor="start" fill="#000" textLength="120.42" lengthAdjust="spacingAndGlyphs">Los</text>
<text x="1062.32" y="109.2" font-size="85" text-anchor="start" fill="#000" textLength="225.4" lengthAdjust="spacingAndGlyphs">Lunas,</text>
<text x="1309.66" y="109.2" font-size="85" text-anchor="start" fill="#000" textLength="138.68" lengthAdjust="spacingAndGlyphs">NM</text>
<text x="1470.99" y="109.2" font-size="85" text-anchor="start" fill="#000" textLength="211.75" lengthAdjust="spacingAndGlyphs">87031</text>
<text x="1349.54" y="1667" font-size="20.5" text-anchor="start" fill="#111" textLength="194.28" lengthAdjust="spacingAndGlyphs">TOTAL HEATED AREA</text>
<text x="1364.92" y="1692" font-size="20.5" text-anchor="start" fill="#111" textLength="163.77" lengthAdjust="spacingAndGlyphs">TOTAL: 1,615 sq.ft</text>
<text x="1352.99" y="1717" font-size="20.5" text-anchor="start" fill="#111" textLength="184.94" lengthAdjust="spacingAndGlyphs">FLOOR 1: 1,615 sq.ft</text>
<text x="1274.65" y="1742" font-size="20.5" text-anchor="start" fill="#111" textLength="341.36" lengthAdjust="spacingAndGlyphs">EXCLUDED AREAS: GARAGE: 452 sq.ft</text>
<text x="1152.45" y="1767" font-size="20.5" text-anchor="start" fill="#a8a8a8" textLength="587.15" lengthAdjust="spacingAndGlyphs">SIZE AND DIMENSIONS ARE APPROXIMATE, ACTUAL MAY VARY</text>
<text x="38.42" y="1768.7" font-size="24.4" text-anchor="start" fill="#9c9c9c" textLength="92.95" lengthAdjust="spacingAndGlyphs">FLOOR 1</text>
</svg>
</body></html>
